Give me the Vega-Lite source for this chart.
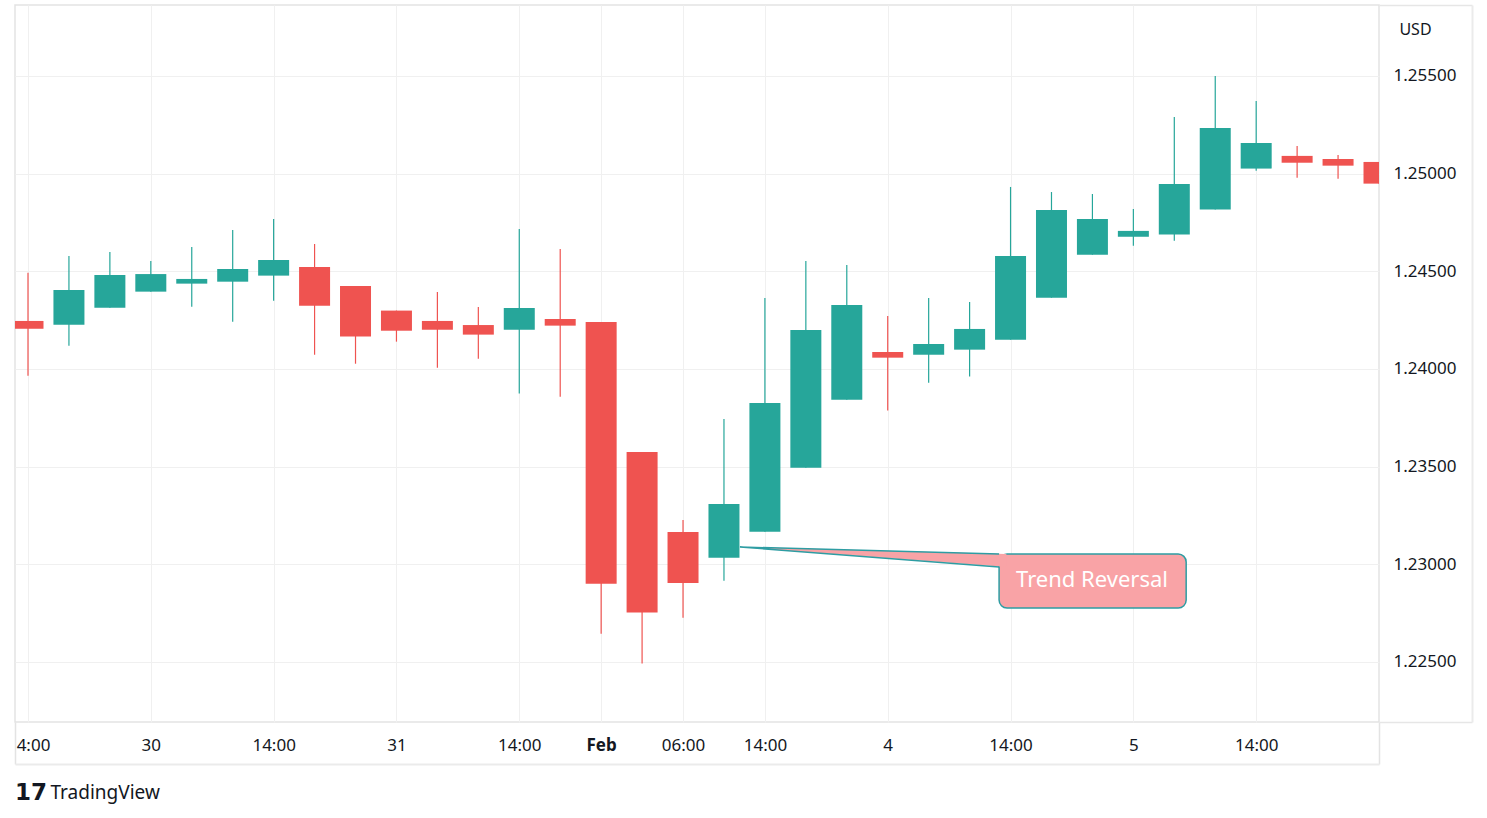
{
  "$schema": "https://vega.github.io/schema/vega-lite/v6.json",
  "width": 1364,
  "height": 717,
  "autosize": {"type": "none"},
  "padding": {"left": 15, "top": 5, "right": 108, "bottom": 96},
  "background": "white",
  "config": {
    "view": {"stroke": "#E3E3E3", "strokeWidth": 1.5},
    "scale": {"continuousPadding": 0},
    "axis": {"labelFont": "Noto Sans", "titleFont": "Noto Sans", "labelColor": "#131722", "titleColor": "#131722", "domain": false, "ticks": false, "grid": false}
  },
  "datasets": {
    "candles": [
      {"i": 0, "open": 1.24246, "high": 1.24493, "low": 1.23966, "close": 1.24206},
      {"i": 1, "open": 1.24227, "high": 1.24579, "low": 1.24119, "close": 1.24405},
      {"i": 2, "open": 1.24314, "high": 1.24599, "low": 1.24314, "close": 1.24481},
      {"i": 3, "open": 1.24396, "high": 1.24553, "low": 1.24396, "close": 1.24486},
      {"i": 4, "open": 1.24437, "high": 1.24625, "low": 1.24319, "close": 1.24461},
      {"i": 5, "open": 1.24447, "high": 1.24712, "low": 1.24242, "close": 1.24512},
      {"i": 6, "open": 1.24478, "high": 1.24768, "low": 1.2435, "close": 1.24558},
      {"i": 7, "open": 1.24522, "high": 1.2464, "low": 1.24073, "close": 1.24324},
      {"i": 8, "open": 1.24425, "high": 1.24425, "low": 1.24027, "close": 1.24166},
      {"i": 9, "open": 1.24299, "high": 1.24299, "low": 1.2414, "close": 1.24196},
      {"i": 10, "open": 1.24246, "high": 1.24394, "low": 1.24007, "close": 1.24201},
      {"i": 11, "open": 1.24225, "high": 1.24318, "low": 1.24053, "close": 1.24176},
      {"i": 12, "open": 1.24201, "high": 1.24717, "low": 1.23874, "close": 1.24312},
      {"i": 13, "open": 1.24256, "high": 1.24614, "low": 1.23858, "close": 1.24222},
      {"i": 14, "open": 1.24241, "high": 1.24241, "low": 1.22645, "close": 1.22901},
      {"i": 15, "open": 1.23575, "high": 1.23575, "low": 1.22492, "close": 1.22753},
      {"i": 16, "open": 1.23166, "high": 1.23227, "low": 1.22727, "close": 1.22905},
      {"i": 17, "open": 1.23034, "high": 1.23744, "low": 1.22916, "close": 1.23309},
      {"i": 18, "open": 1.23167, "high": 1.24364, "low": 1.23167, "close": 1.23826},
      {"i": 19, "open": 1.23495, "high": 1.24553, "low": 1.23495, "close": 1.242},
      {"i": 20, "open": 1.23843, "high": 1.24533, "low": 1.23843, "close": 1.24328},
      {"i": 21, "open": 1.24087, "high": 1.24271, "low": 1.23787, "close": 1.24058},
      {"i": 22, "open": 1.24073, "high": 1.24364, "low": 1.2393, "close": 1.24128},
      {"i": 23, "open": 1.24099, "high": 1.24343, "low": 1.23961, "close": 1.24205},
      {"i": 24, "open": 1.2415, "high": 1.24932, "low": 1.2415, "close": 1.24579},
      {"i": 25, "open": 1.24365, "high": 1.24906, "low": 1.24365, "close": 1.24814},
      {"i": 26, "open": 1.24585, "high": 1.24896, "low": 1.24585, "close": 1.24768},
      {"i": 27, "open": 1.24677, "high": 1.24819, "low": 1.24631, "close": 1.24707},
      {"i": 28, "open": 1.24688, "high": 1.2529, "low": 1.24657, "close": 1.24947},
      {"i": 29, "open": 1.24816, "high": 1.255, "low": 1.24816, "close": 1.25234},
      {"i": 30, "open": 1.25026, "high": 1.25372, "low": 1.25015, "close": 1.25157},
      {"i": 31, "open": 1.25091, "high": 1.25142, "low": 1.24979, "close": 1.25056},
      {"i": 32, "open": 1.25075, "high": 1.25096, "low": 1.24974, "close": 1.25041},
      {"i": 33, "open": 1.2506, "high": 1.2506, "low": 1.24949, "close": 1.24949}
    ],
    "callout": [
      {"x1": 23.72, "x2": 28.29, "y1": 1.230528, "y2": 1.227764, "cx": 25.99, "cy": 1.229198, "label": "Trend Reversal"}
    ],
    "tail_fill": [
      {"x": 17.39, "top": 1.230887, "bot": 1.230887},
      {"x": 23.9, "top": 1.230528, "bot": 1.229863}
    ],
    "tail_edge": [
      {"x": 23.72, "y": 1.230528, "o": 0},
      {"x": 17.39, "y": 1.230887, "o": 1},
      {"x": 23.72, "y": 1.229863, "o": 2}
    ]
  },
  "layer": [
    {
      "data": {"name": "candles"},
      "mark": {"type": "rule", "strokeWidth": 1.2, "clip": true},
      "encoding": {
        "x": {
          "field": "i", "type": "quantitative",
          "scale": {"domain": [-0.3175, 33], "nice": false, "zero": false, "padding": 0},
          "axis": {
            "orient": "bottom",
            "values": [0, 3, 6, 9, 12, 14, 16, 18, 21, 24, 27, 30],
            "labelExpr": "datum.value == 0 ? '4:00' : datum.value == 3 ? '30' : datum.value == 9 ? '31' : datum.value == 14 ? 'Feb' : datum.value == 16 ? '06:00' : datum.value == 21 ? '4' : datum.value == 27 ? '5' : '14:00'",
            "grid": true, "gridColor": "#F0F0F0", "gridWidth": 1,
            "labelFontSize": 17, "labelPadding": 23, "labelBaseline": "middle",
            "labelFontWeight": {"condition": {"test": "datum.value == 14", "value": "bold"}, "value": "normal"},
            "labelOffset": {"condition": {"test": "datum.value == 0", "value": 5}, "value": 0},
            "labelFlush": false, "labelOverlap": false, "labelBound": false,
            "title": "TradingView", "titleX": 35, "titleY": 70, "titleAlign": "left", "titleBaseline": "middle",
            "titleFontSize": 19, "titleFontWeight": "normal"
          }
        },
        "y": {
          "field": "low", "type": "quantitative",
          "scale": {"domain": [1.2219283, 1.2586348], "nice": false, "zero": false, "padding": 0},
          "axis": {
            "orient": "right",
            "values": [1.225, 1.23, 1.235, 1.24, 1.245, 1.25, 1.255],
            "format": ".5f",
            "grid": true, "gridColor": "#F0F0F0", "gridWidth": 1,
            "labelFontSize": 17, "labelPadding": 14, "labelAlign": "left", "labelBaseline": "middle",
            "labelOverlap": false, "labelBound": false, "labelFlush": false,
            "title": "USD", "titleAngle": 0, "titleX": 36, "titleY": 24, "titleAlign": "center", "titleBaseline": "middle",
            "titleFontSize": 16, "titleFontWeight": "normal"
          }
        },
        "y2": {"field": "high"},
        "color": {"condition": {"test": "datum.close >= datum.open", "value": "#26A69A"}, "value": "#EF5350"}
      }
    },
    {
      "data": {"name": "candles"},
      "mark": {"type": "bar", "width": 31, "clip": true},
      "encoding": {
        "x": {
          "field": "i", "type": "quantitative",
          "scale": {"domain": [-0.3175, 33], "nice": false, "zero": false, "padding": 0},
          "axis": {
            "orient": "bottom", "offset": 42,
            "values": [-0.3175, 33],
            "labels": false, "grid": false,
            "domain": true, "domainColor": "#EBEBEB", "domainWidth": 2,
            "ticks": true, "tickSize": -42, "tickColor": "#E3E3E3", "tickWidth": 1.5,
            "title": "17", "titleFont": "DejaVu Sans", "titleFontSize": 23, "titleFontWeight": "bold",
            "titleX": 15.5, "titleY": 28, "titleAlign": "center", "titleBaseline": "middle"
          }
        },
        "y": {
          "field": "open", "type": "quantitative",
          "scale": {"domain": [1.2219283, 1.2586348], "nice": false, "zero": false, "padding": 0},
          "axis": {
            "orient": "right", "offset": 93,
            "values": [1.2219283, 1.2586348],
            "labels": false, "grid": false,
            "domain": true, "domainColor": "#EBEBEB", "domainWidth": 2,
            "ticks": true, "tickSize": -93, "tickColor": "#E6E6E6", "tickWidth": 1.5,
            "title": null
          }
        },
        "y2": {"field": "close"},
        "color": {"condition": {"test": "datum.close >= datum.open", "value": "#26A69A"}, "value": "#EF5350"}
      }
    },
    {
      "data": {"name": "callout"},
      "mark": {"type": "rect", "fill": "#F9A3A6", "stroke": "#2E9DA3", "strokeWidth": 1.5, "cornerRadius": 8},
      "encoding": {
        "x": {"field": "x1", "type": "quantitative", "scale": {"domain": [-0.3175, 33], "nice": false, "zero": false, "padding": 0}, "axis": null},
        "x2": {"field": "x2"},
        "y": {"field": "y1", "type": "quantitative", "scale": {"domain": [1.2219283, 1.2586348], "nice": false, "zero": false, "padding": 0}, "axis": null},
        "y2": {"field": "y2"}
      }
    },
    {
      "data": {"name": "tail_fill"},
      "mark": {"type": "area", "fill": "#F9A3A6", "strokeWidth": 0},
      "encoding": {
        "x": {"field": "x", "type": "quantitative", "scale": {"domain": [-0.3175, 33], "nice": false, "zero": false, "padding": 0}, "axis": null},
        "y": {"field": "top", "type": "quantitative", "scale": {"domain": [1.2219283, 1.2586348], "nice": false, "zero": false, "padding": 0}, "axis": null},
        "y2": {"field": "bot"}
      }
    },
    {
      "data": {"name": "tail_edge"},
      "mark": {"type": "line", "stroke": "#2E9DA3", "strokeWidth": 1.5},
      "encoding": {
        "x": {"field": "x", "type": "quantitative", "scale": {"domain": [-0.3175, 33], "nice": false, "zero": false, "padding": 0}, "axis": null},
        "y": {"field": "y", "type": "quantitative", "scale": {"domain": [1.2219283, 1.2586348], "nice": false, "zero": false, "padding": 0}, "axis": null},
        "order": {"field": "o", "type": "quantitative"}
      }
    },
    {
      "data": {"name": "callout"},
      "mark": {"type": "text", "color": "white", "fontSize": 22, "font": "Noto Sans", "align": "center", "baseline": "middle"},
      "encoding": {
        "x": {"field": "cx", "type": "quantitative", "scale": {"domain": [-0.3175, 33], "nice": false, "zero": false, "padding": 0}, "axis": null},
        "y": {"field": "cy", "type": "quantitative", "scale": {"domain": [1.2219283, 1.2586348], "nice": false, "zero": false, "padding": 0}, "axis": null},
        "text": {"field": "label"}
      }
    }
  ],
  "resolve": {"axis": {"x": "independent", "y": "independent"}}
}
